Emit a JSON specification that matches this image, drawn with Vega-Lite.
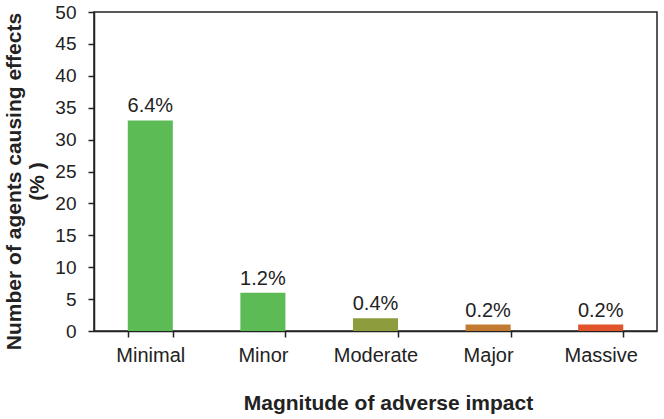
{
  "$schema": "https://vega.github.io/schema/vega-lite/v6.json",
  "autosize": {"type": "none"},
  "padding": {"left": 94, "top": 12, "right": 7, "bottom": 88},
  "width": 563,
  "height": 319,
  "background": "white",
  "config": {
    "font": "Liberation Sans",
    "view": {"stroke": "#222222", "strokeWidth": 1.5},
    "axis": {
      "domainColor": "#222222",
      "domainWidth": 1.5,
      "tickColor": "#222222",
      "tickWidth": 1.5,
      "labelFont": "Liberation Sans",
      "labelFontSize": 20,
      "labelColor": "#222222",
      "titleFont": "Liberation Sans",
      "titleFontSize": 21,
      "titleFontWeight": "bold",
      "titleColor": "#222222",
      "grid": false
    }
  },
  "data": {
    "values": [
      {"impact": "Minimal", "value": 33, "label": "6.4%", "color": "#5dbb55"},
      {"impact": "Minor", "value": 6, "label": "1.2%", "color": "#5dbb55"},
      {"impact": "Moderate", "value": 2, "label": "0.4%", "color": "#8d9c3c"},
      {"impact": "Major", "value": 1, "label": "0.2%", "color": "#c27a30"},
      {"impact": "Massive", "value": 1, "label": "0.2%", "color": "#e0532b"}
    ]
  },
  "encoding": {
    "x": {
      "field": "impact",
      "type": "nominal",
      "sort": null,
      "scale": {"paddingInner": 0.6, "paddingOuter": 0.3},
      "axis": {
        "title": "Magnitude of adverse impact",
        "labelAngle": 0,
        "tickBand": "extent",
        "tickSize": 6,
        "labelPadding": 8,
        "titlePadding": 27,
        "titleX": 294
      }
    },
    "y": {
      "field": "value",
      "type": "quantitative",
      "scale": {"domain": [0, 50]},
      "axis": {
        "title": ["Number of agents causing effects", "(% )"],
        "values": [0, 5, 10, 15, 20, 25, 30, 35, 40, 45, 50],
        "labelFontSize": 19,
        "tickSize": 6,
        "labelPadding": 12,
        "titlePadding": 7,
        "titleLineHeight": 23,
        "titleY": 169
      }
    }
  },
  "layer": [
    {
      "mark": {"type": "bar"},
      "encoding": {
        "color": {"field": "color", "type": "nominal", "scale": null}
      }
    },
    {
      "mark": {"type": "text", "baseline": "alphabetic", "dy": -8, "fontSize": 20, "color": "#222222", "font": "Liberation Sans"},
      "encoding": {
        "text": {"field": "label"}
      }
    }
  ]
}
